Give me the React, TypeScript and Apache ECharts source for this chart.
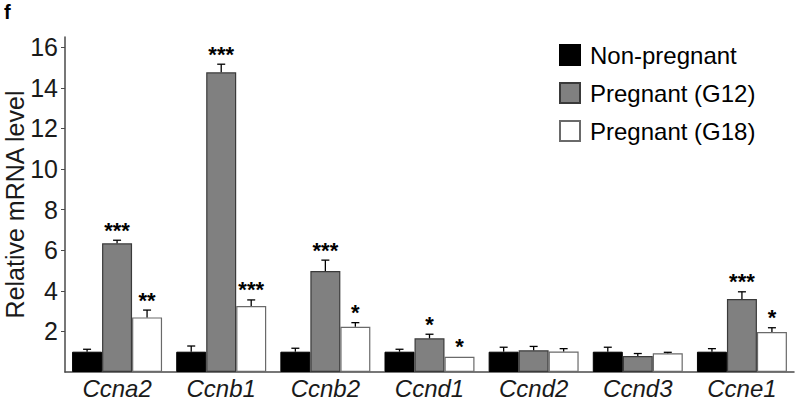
import React, { useEffect, useRef } from "react";
import * as echarts from "echarts";

const categories = ["Ccna2", "Ccnb1", "Ccnb2", "Ccnd1", "Ccnd2", "Ccnd3", "Ccne1"];
const seriesNames = ["Non-pregnant", "Pregnant (G12)", "Pregnant (G18)"];
const nonPregnant = [1.0, 1.0, 1.0, 1.0, 1.0, 1.0, 1.0];
const nonPregnantErr = [0.12, 0.28, 0.17, 0.12, 0.22, 0.22, 0.15];
const g12 = [6.34, 14.76, 4.97, 1.66, 1.07, 0.79, 3.59];
const g12Err = [0.15, 0.4, 0.54, 0.2, 0.19, 0.12, 0.36];
const g18 = [2.69, 3.25, 2.23, 0.75, 1.01, 0.92, 1.97];
const g18Err = [0.36, 0.3, 0.2, 0.03, 0.14, 0.05, 0.21];
const nonPregnantSig = ["", "", "", "", "", "", ""];
const g12Sig = ["***", "***", "***", "*", "", "", "***"];
const g18Sig = ["**", "***", "*", "*", "", "", "*"];
const yTicks = [2, 4, 6, 8, 10, 12, 14, 16];

const FONT = "'Liberation Sans', Arial, Helvetica, sans-serif";
const GAP = 0.136;

export default function App() {
  const ref = useRef<HTMLDivElement>(null);
  useEffect(() => {
    if (!ref.current) return;
    const chart = echarts.init(ref.current, undefined, { renderer: "svg" });
    const values = [nonPregnant, g12, g18];
    const errs = [nonPregnantErr, g12Err, g18Err];
    const sigs = [nonPregnantSig, g12Sig, g18Sig];
    const styles = [
      { color: "#000000", borderColor: "#000000", borderWidth: 1 },
      { color: "#808080", borderColor: "#3a3a3a", borderWidth: 1.2 },
      { color: "#ffffff", borderColor: "#6a6a6a", borderWidth: 1.2 },
    ];
    const barSeries = seriesNames.map((name, i) => ({
      name,
      type: "bar",
      data: values[i],
      barGap: "0%",
      barCategoryGap: (GAP * 100).toFixed(1) + "%",
      itemStyle: styles[i],
      z: 2,
    }));
    const errSeries = seriesNames.map((name, i) => ({
      type: "custom",
      z: 3,
      silent: true,
      data: values[i].map((v, j) => [j, v, errs[i][j]]),
      renderItem: (params: any, api: any) => {
        const idx = api.value(0);
        const v = api.value(1);
        const e = api.value(2);
        const band = api.size([1, 0])[0];
        const bw = (band * (1 - GAP)) / 3;
        const c = api.coord([idx, v]);
        const top = api.coord([idx, v + e]);
        const x = c[0] + (i - 1) * bw;
        const children: any[] = [];
        if (e > 0.04) {
          children.push({
            type: "line",
            shape: { x1: x, y1: c[1], x2: x, y2: top[1] },
            style: { stroke: "#000", lineWidth: 1.3 },
          });
          children.push({
            type: "line",
            shape: { x1: x - 4, y1: top[1], x2: x + 4, y2: top[1] },
            style: { stroke: "#000", lineWidth: 1.3 },
          });
        }
        const s = sigs[i][idx];
        if (s) {
          children.push({
            type: "text",
            x,
            y: top[1] - 10,
            style: {
              text: s,
              fontFamily: FONT,
              fontSize: 22,
              fontWeight: "bold",
              fill: "#000",
              align: "center",
              verticalAlign: "middle",
            },
          });
        }
        return { type: "group", children };
      },
    }));
    chart.setOption({
      animation: false,
      backgroundColor: "#ffffff",
      textStyle: { fontFamily: FONT },
      grid: { left: 65, right: 6, top: 37, bottom: 28, containLabel: false, outerBoundsMode: "none" },
      legend: {
        orient: "vertical",
        left: 554,
        top: 38,
        itemWidth: 20,
        itemHeight: 20,
        itemGap: 14,
        icon: "rect",
        data: seriesNames,
        textStyle: { fontSize: 24, color: "#000", fontFamily: FONT, padding: [0, 0, 0, 5] },
      },
      xAxis: {
        type: "category",
        data: categories,
        axisLine: { lineStyle: { color: "#4a4a4a", width: 1.5 } },
        axisTick: { show: false },
        axisLabel: {
          fontSize: 24,
          lineHeight: 24,
          fontStyle: "italic",
          color: "#1a1a1a",
          margin: 4,
          fontFamily: FONT,
        },
      },
      yAxis: {
        type: "value",
        min: 0,
        max: 16.5,
        name: "Relative mRNA level",
        nameLocation: "middle",
        nameGap: 37,
        nameMoveOverlap: false,
        nameTextStyle: { fontSize: 25, lineHeight: 26, color: "#1a1a1a", fontFamily: FONT },
        splitLine: { show: false },
        axisLine: { show: true, lineStyle: { color: "#4a4a4a", width: 1.5 } },
        axisTick: { show: true, length: 4, customValues: yTicks, lineStyle: { color: "#4a4a4a" } },
        axisLabel: {
          customValues: yTicks,
          fontSize: 25,
          color: "#1a1a1a",
          margin: 7,
          fontFamily: FONT,
        },
      },
      graphic: [
        {
          type: "text",
          left: 4,
          top: 2,
          style: { text: "f", fontSize: 20, fontWeight: "bold", fill: "#000", fontFamily: FONT },
        },
      ],
      series: [...barSeries, ...errSeries],
    });
    return () => chart.dispose();
  }, []);
  return <div ref={ref} style={{ width: 800, height: 400, position: "absolute", left: 0, top: 0 }} />;
}
